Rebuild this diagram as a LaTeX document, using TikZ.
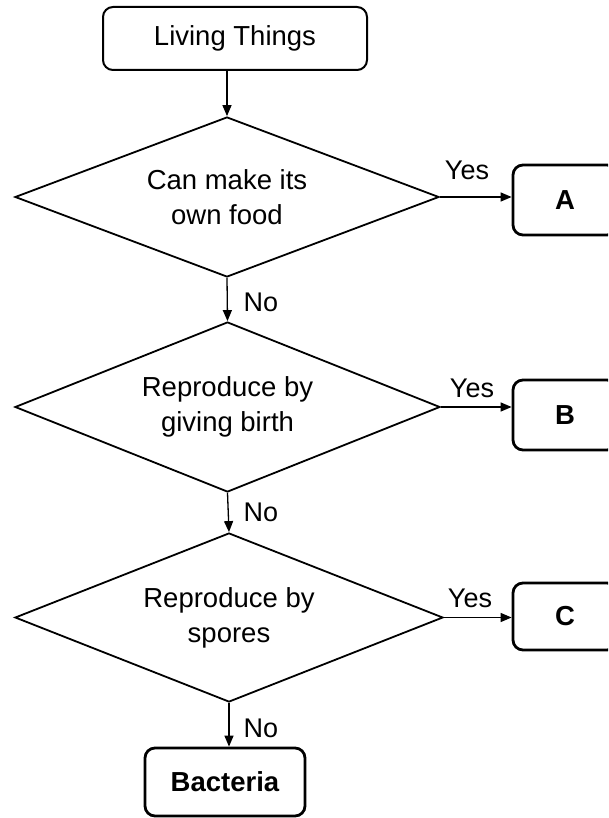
\documentclass[tikz,border=0pt]{standalone}
\usepackage{fontspec}
\setmainfont{Liberation Sans}
\usetikzlibrary{shapes.geometric,arrows.meta}
\begin{document}
\begin{tikzpicture}[x=1pt,y=-1pt,
  rbox/.style={draw, line width=2pt, rounded corners=10pt, inner sep=0pt},
  ansbox/.style={rbox, line width=2.8pt, minimum width=104pt, font=\fontsize{27.5}{32}\selectfont\bfseries},
  dec/.style={draw, line width=1.8pt, diamond, inner sep=0pt, shape aspect=2.65, align=center, font=\fontsize{27.5}{35}\selectfont},
  conn/.style={line width=1.3pt, -{Triangle[length=11pt,width=9pt]}},
  lab/.style={font=\fontsize{27}{30}\selectfont, inner sep=0pt}]
\clip (0,0) rectangle (608,818);
\node[rbox, minimum width=264pt, minimum height=63pt, font=\fontsize{27.5}{32}\selectfont] (top) at (235,38.5) {Living Things};
\node[dec, minimum width=424pt, minimum height=160pt] (d1) at (227,197) {Can make its\\own food};
\node[dec, minimum width=425pt, minimum height=170pt] (d2) at (227.5,407) {Reproduce by\\giving birth};
\node[dec, minimum width=428pt, minimum height=169pt] (d3) at (229,617.5) {Reproduce by\\spores};
\node[ansbox, minimum height=70pt] (A) at (565,200) {A};
\node[ansbox, minimum height=70pt] (B) at (565,415) {B};
\node[ansbox, minimum height=67pt] (C) at (565,616.5) {C};
\node[ansbox, minimum width=160pt, minimum height=68pt] (bac) at (225,782) {Bacteria};
\draw[conn] (d1.north |- top.south) -- (d1.north);
\draw[conn] (d1.south) -- (d2.north);
\draw[conn] (d2.south) -- (d3.north);
\draw[conn] (d3.south) -- (d3.south |- bac.north);
\draw[conn] (d1.east) -- (d1.east -| A.west);
\draw[conn] (d2.east) -- (d2.east -| B.west);
\draw[conn] (d3.east) -- (d3.east -| C.west);
\node[lab] (y1) at (467,170) {Yes};
\node[lab] (y2) at (472,388) {Yes};
\node[lab] (y3) at (470,598) {Yes};
\node[lab] (n1) at (261,302) {No};
\node[lab] (n2) at (261,512) {No};
\node[lab] (n3) at (261,728) {No};
\end{tikzpicture}
\end{document}
